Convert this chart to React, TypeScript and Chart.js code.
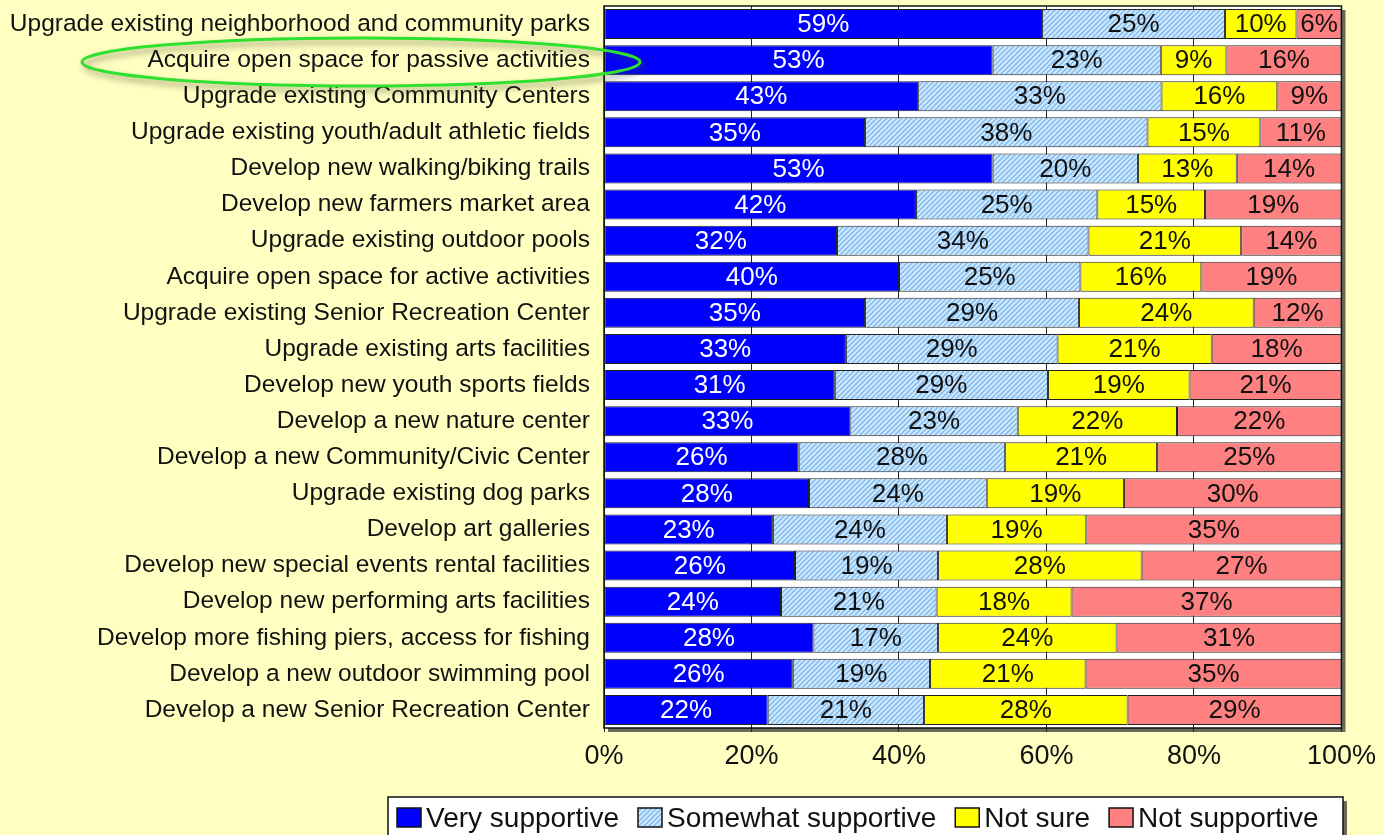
import React, { useEffect, useRef } from "react";
import { Chart, registerables } from "chart.js";

Chart.register(...registerables);

const categories = [
  "Upgrade existing neighborhood and community parks",
  "Acquire open space for passive activities",
  "Upgrade existing Community Centers",
  "Upgrade existing youth/adult athletic fields",
  "Develop new walking/biking trails",
  "Develop new farmers market area",
  "Upgrade existing outdoor pools",
  "Acquire open space for active activities",
  "Upgrade existing Senior Recreation Center",
  "Upgrade existing arts facilities",
  "Develop new youth sports fields",
  "Develop a new nature center",
  "Develop a new Community/Civic Center",
  "Upgrade existing dog parks",
  "Develop art galleries",
  "Develop new special events rental facilities",
  "Develop new performing arts facilities",
  "Develop more fishing piers, access for fishing",
  "Develop a new outdoor swimming pool",
  "Develop a new Senior Recreation Center",
];

const verySupportive = [59.4, 52.7, 42.6, 35.4, 52.7, 42.3, 31.6, 40.0, 35.4, 32.8, 31.3, 33.4, 26.4, 27.8, 22.9, 25.9, 24.0, 28.4, 25.6, 22.2];
const somewhatSupportive = [24.8, 22.8, 33.0, 38.3, 19.7, 24.6, 34.1, 24.6, 29.0, 28.7, 28.9, 22.7, 28.0, 24.1, 23.6, 19.4, 21.1, 16.9, 18.6, 21.2];
const notSure = [9.7, 8.9, 15.7, 15.3, 13.4, 14.6, 20.7, 16.4, 23.7, 20.9, 19.2, 21.6, 20.6, 18.6, 18.9, 27.6, 18.3, 24.2, 21.1, 27.6];
const notSupportive = [6.1, 15.6, 8.7, 11.0, 14.2, 18.5, 13.6, 19.0, 11.9, 17.6, 20.6, 22.3, 25.0, 29.5, 34.6, 27.1, 36.6, 30.5, 34.7, 29.0];

const seriesNames = ["Very supportive", "Somewhat supportive", "Not sure", "Not supportive"];
const xTickStep = 20;
const xMax = 100;

const FONT = "'Liberation Sans', Arial, Helvetica, sans-serif";

function makeHatch(): CanvasPattern | string {
  const c = document.createElement("canvas");
  c.width = 5;
  c.height = 5;
  const g = c.getContext("2d");
  if (!g) return "#a8d4f6";
  g.fillStyle = "#d2e9fd";
  g.fillRect(0, 0, 5, 5);
  g.strokeStyle = "#7fbbee";
  g.lineWidth = 1.5;
  g.beginPath();
  g.moveTo(-1, 6);
  g.lineTo(6, -1);
  g.moveTo(-3.5, 3.5);
  g.lineTo(3.5, -3.5);
  g.moveTo(1.5, 8.5);
  g.lineTo(8.5, 1.5);
  g.stroke();
  return g.createPattern(c, "repeat") || "#a8d4f6";
}

export default function App() {
  const ref = useRef<HTMLCanvasElement | null>(null);

  useEffect(() => {
    if (!ref.current) return;
    const hatch = makeHatch();
    const colors: any[] = ["#0000ff", hatch, "#ffff00", "#ff8080"];
    const values = [verySupportive, somewhatSupportive, notSure, notSupportive];

    const bgPlugin = {
      id: "bg",
      beforeDraw(chart: any) {
        const { ctx, chartArea: a } = chart;
        ctx.save();
        ctx.fillStyle = "#ffffc2";
        ctx.fillRect(0, 0, chart.width, chart.height);
        ctx.fillStyle = "#6b6b5a";
        ctx.fillRect(a.left + 4, a.top + 4, a.right - a.left, a.bottom - a.top);
        ctx.fillStyle = "#ffffff";
        ctx.fillRect(a.left, a.top, a.right - a.left, a.bottom - a.top);
        ctx.restore();
      },
      afterDatasetsDraw(chart: any) {
        const { ctx, chartArea: a } = chart;
        ctx.save();
        ctx.font = `26px ${FONT}`;
        ctx.textAlign = "center";
        ctx.textBaseline = "middle";
        chart.data.datasets.forEach((ds: any, di: number) => {
          const meta = chart.getDatasetMeta(di);
          meta.data.forEach((el: any, i: number) => {
            const p = el.getProps(["x", "y", "base"], true);
            const v = ds.data[i];
            const cx = (p.x + p.base) / 2;
            ctx.fillStyle = di === 0 ? "#ffffff" : "#111111";
            ctx.fillText(Math.round(v) + "%", cx, p.y + 1);
          });
        });
        ctx.strokeStyle = "#111";
        ctx.lineWidth = 1.5;
        ctx.strokeRect(a.left, a.top, a.right - a.left, a.bottom - a.top);
        ctx.restore();
      },
      afterDraw(chart: any) {
        const { ctx } = chart;
        ctx.save();
        const bx = 388, by = 797, bw = 955, bh = 50;
        ctx.fillStyle = "#6b6b5a";
        ctx.fillRect(bx + 4, by + 4, bw, bh);
        ctx.fillStyle = "#ffffff";
        ctx.fillRect(bx, by, bw, bh);
        ctx.strokeStyle = "#111";
        ctx.lineWidth = 1.5;
        ctx.strokeRect(bx, by, bw, bh);
        ctx.font = `28px ${FONT}`;
        ctx.textAlign = "left";
        ctx.textBaseline = "alphabetic";
        let x = 397;
        chart.data.datasets.forEach((ds: any) => {
          ctx.fillStyle = ds.backgroundColor;
          ctx.fillRect(x, 808, 24, 19);
          ctx.strokeStyle = "#111";
          ctx.lineWidth = 1.5;
          ctx.strokeRect(x, 808, 24, 19);
          ctx.fillStyle = "#111";
          const tx = x + 29;
          ctx.fillText(ds.label, tx, 827);
          x = tx + ctx.measureText(ds.label).width + 19;
        });
        ctx.shadowColor = "rgba(60,60,40,0.55)";
        ctx.shadowBlur = 6;
        ctx.shadowOffsetX = 3;
        ctx.shadowOffsetY = 4;
        ctx.strokeStyle = "#2fe02f";
        ctx.lineWidth = 3;
        ctx.beginPath();
        ctx.ellipse(361, 62, 279, 24, 0, 0, Math.PI * 2);
        ctx.stroke();
        ctx.restore();
      },
    };

    const chart = new Chart(ref.current, {
      type: "bar",
      data: {
        labels: categories,
        datasets: seriesNames.map((name, i) => ({
          label: name,
          data: values[i],
          backgroundColor: colors[i],
          borderColor: "#222",
          borderWidth: 1,
          borderSkipped: false,
          barPercentage: 0.83,
          categoryPercentage: 1,
        })),
      },
      options: {
        indexAxis: "y",
        animation: false,
        responsive: false,
        maintainAspectRatio: false,
        layout: { padding: { top: 6, right: 42, left: 0, bottom: 0 } },
        plugins: { legend: { display: false }, tooltip: { enabled: false } },
        scales: {
          x: {
            stacked: true,
            min: 0,
            max: xMax,
            ticks: {
              stepSize: xTickStep,
              callback: (v: any) => v + "%",
              font: { family: FONT, size: 27 },
              color: "#111",
              padding: 8,
            },
            grid: { color: "#222", lineWidth: 1, drawTicks: true, tickLength: 4 },
            border: { display: false },
            afterFit: (s: any) => {
              s.height = 107;
            },
          },
          y: {
            stacked: true,
            ticks: { font: { family: FONT, size: 24.5 }, color: "#111", padding: 6 },
            grid: { display: false },
            border: { display: false },
            afterFit: (s: any) => {
              s.width = 604;
              s.paddingTop = 0;
              s.paddingBottom = 0;
            },
          },
        },
      } as any,
      plugins: [bgPlugin],
    });
    return () => chart.destroy();
  }, []);

  return (
    <div style={{ position: "fixed", left: 0, top: 0, width: 1384, height: 835, background: "#ffffc2" }}>
      <canvas ref={ref} width={1384} height={835} style={{ display: "block", width: 1384, height: 835 }} />
    </div>
  );
}
